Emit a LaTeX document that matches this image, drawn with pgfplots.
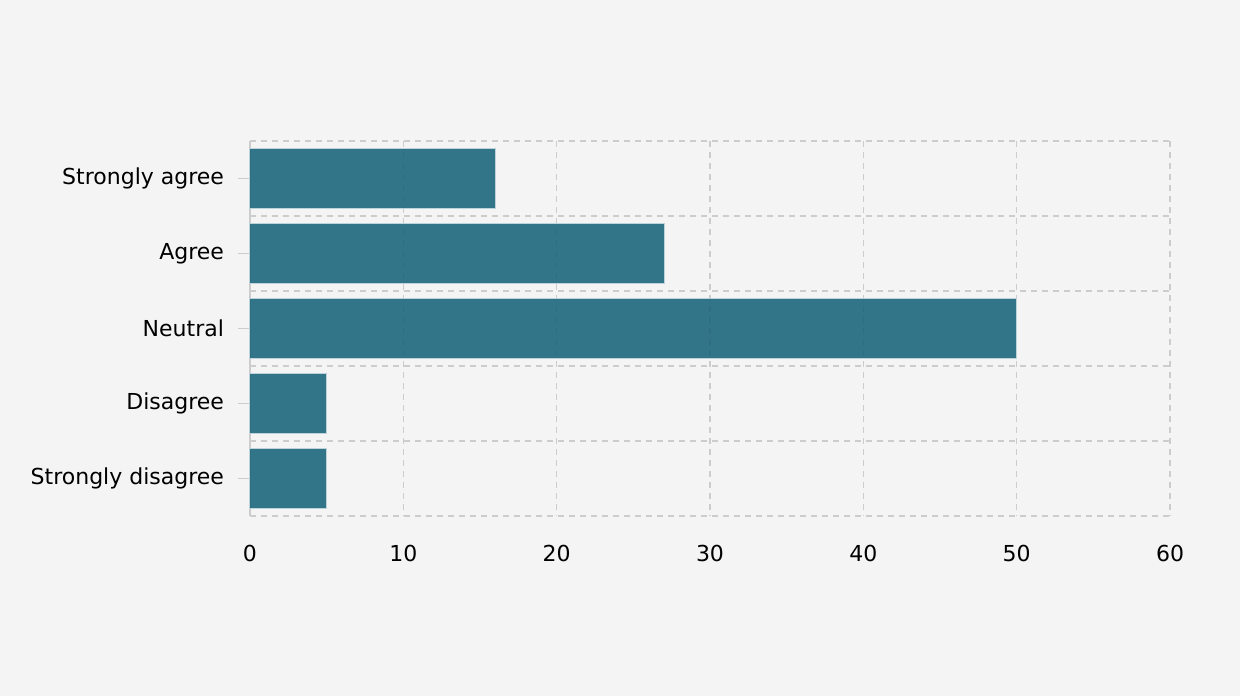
\documentclass[border=0pt]{standalone}
\usepackage{fontspec}
\setmainfont{DejaVu Sans}
\usepackage{pgfplots}
\pgfplotsset{compat=1.18}
\definecolor{bg}{HTML}{F4F4F4}
\definecolor{barc}{RGB}{22,97,120}
\definecolor{gridc}{HTML}{CCCCCC}
\definecolor{edgec}{RGB}{190,210,218}
\begin{document}
\begin{tikzpicture}
\fill[bg] (-125pt,-90pt) rectangle (495pt,258pt);
\begin{axis}[
  at={(0pt,0pt)}, anchor=south west,
  scale only axis,
  width=460pt, height=187.5pt,
  xmin=0, xmax=60,
  ymin=-0.5, ymax=4.5,
  y dir=reverse,
  xbar, bar width=0.8, bar shift=0pt,
  axis x line*=bottom, axis y line*=left,
  axis line style={-},
  x axis line style={draw=none},
  y axis line style={draw=gridc, line width=1pt},
  xtick={0,10,...,60},
  ytick={0,1,2,3,4},
  yticklabels={Strongly agree,Agree,Neutral,Disagree,Strongly disagree},
  minor ytick={-0.5,0.5,1.5,2.5,3.5,4.5},
  xmajorgrids=true, ymajorgrids=false, yminorgrids=true,
  grid style={draw=gridc, line width=0.7pt, dash pattern=on 3pt off 2.5pt},
  minor grid style={draw=gridc, line width=0.7pt, dash pattern=on 3pt off 2.5pt},
  xtick style={draw=none},
  minor tick length=0pt,
  ytick style={draw=gridc, line width=0.7pt},
  tick align=outside,
  major tick length=6pt,
  ticklabel style={font=\fontsize{11pt}{13pt}\selectfont, text=black},
  /pgf/number format/assume math mode=true,
  xticklabel style={yshift=-5pt},
  yticklabel style={xshift=-3.5pt},
  clip=false,
]
\addplot[fill=barc, fill opacity=0.87, draw=edgec, line width=0.5pt] coordinates {
  (16,0) (27,1) (50,2) (5,3) (5,4)
};
\end{axis}
\end{tikzpicture}
\end{document}
